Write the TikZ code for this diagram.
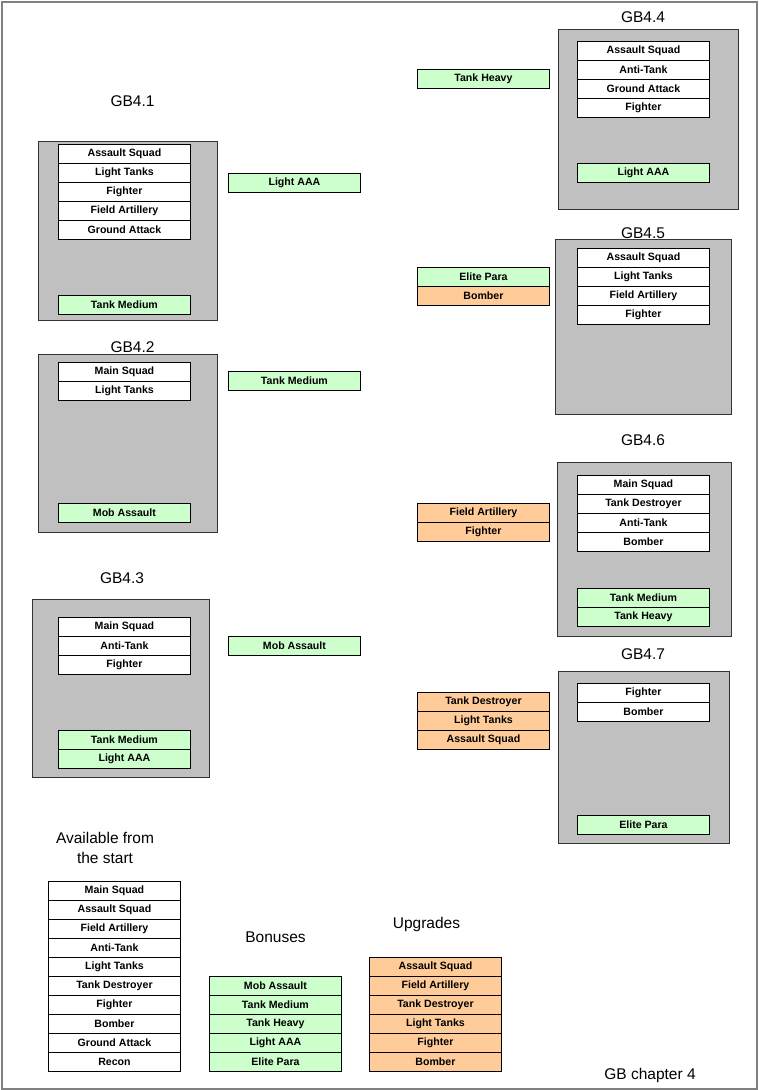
\documentclass[tikz,border=0pt]{standalone}
\usepackage{fontspec}
\setmainfont{Liberation Sans}
\definecolor{grpfill}{HTML}{C0C0C0}
\definecolor{grnfill}{HTML}{CCFFCC}
\definecolor{orgfill}{HTML}{FFCC99}
\definecolor{framecol}{HTML}{808080}
\begin{document}
\begin{tikzpicture}[x=1pt,y=-1pt,
  cell/.style={draw=black,line width=0.9pt,fill=white,minimum width=132pt,minimum height=19pt,
    inner sep=0pt,anchor=north west,font=\fontsize{10.6}{12}\selectfont\bfseries},
  grn/.style={cell,fill=grnfill},
  org/.style={cell,fill=orgfill},
  grp/.style={draw=black!80,line width=1pt,fill=grpfill,inner sep=0pt,anchor=north west},
  ttl/.style={font=\fontsize{15.5}{18.5}\selectfont,inner sep=0pt,align=center},
  small/.style={font=\fontsize{15.5}{18}\selectfont,inner sep=0pt}]
\useasboundingbox (0,0) rectangle (758,1090);
\node[draw=framecol,line width=2pt,minimum width=755pt,minimum height=1087pt,anchor=north west,inner sep=0pt] (frame) at (1,1) {};

% GB4.1
\node[ttl] (t1) at (132.5,101) {GB4.1};
\node[grp,minimum width=179pt,minimum height=179pt] (g1) at (38,141) {};
\node[cell] (g1a) at (58,144) {Assault Squad};
\node[cell] (g1b) at (58,163) {Light Tanks};
\node[cell] (g1c) at (58,182) {Fighter};
\node[cell] (g1d) at (58,201) {Field Artillery};
\node[cell] (g1e) at (58,220) {Ground Attack};
\node[grn] (g1f) at (58,295) {Tank Medium};
\node[grn] (b1) at (228,173) {Light AAA};

% GB4.2
\node[ttl] (t2) at (132.5,347) {GB4.2};
\node[grp,minimum width=179pt,minimum height=178pt] (g2) at (38,354) {};
\node[cell] (g2a) at (58,362) {Main Squad};
\node[cell] (g2b) at (58,381) {Light Tanks};
\node[grn] (g2c) at (58,503) {Mob Assault};
\node[grn] (b2) at (228,371) {Tank Medium};

% GB4.3
\node[ttl] (t3) at (122,578) {GB4.3};
\node[grp,minimum width=177pt,minimum height=178pt] (g3) at (32,599) {};
\node[cell] (g3a) at (58,617) {Main Squad};
\node[cell] (g3b) at (58,636) {Anti-Tank};
\node[cell] (g3c) at (58,655) {Fighter};
\node[grn] (g3d) at (58,730) {Tank Medium};
\node[grn] (g3e) at (58,749) {Light AAA};
\node[grn] (b3) at (228,636) {Mob Assault};

% GB4.4
\node[ttl] (t4) at (643,17) {GB4.4};
\node[grp,minimum width=180pt,minimum height=180pt] (g4) at (558,29) {};
\node[cell] (g4a) at (577,41) {Assault Squad};
\node[cell] (g4b) at (577,60) {Anti-Tank};
\node[cell] (g4c) at (577,79) {Ground Attack};
\node[cell] (g4d) at (577,98) {Fighter};
\node[grn] (g4e) at (577,163) {Light AAA};
\node[grn] (b4) at (417,69) {Tank Heavy};

% GB4.5
\node[ttl] (t5) at (643,233) {GB4.5};
\node[grp,minimum width=176pt,minimum height=175pt] (g5) at (555,239) {};
\node[cell] (g5a) at (577,248) {Assault Squad};
\node[cell] (g5b) at (577,267) {Light Tanks};
\node[cell] (g5c) at (577,286) {Field Artillery};
\node[cell] (g5d) at (577,305) {Fighter};
\node[grn] (b5a) at (417,267) {Elite Para};
\node[org] (b5b) at (417,286) {Bomber};

% GB4.6
\node[ttl] (t6) at (643,440) {GB4.6};
\node[grp,minimum width=174pt,minimum height=174pt] (g6) at (557,462) {};
\node[cell] (g6a) at (577,475) {Main Squad};
\node[cell] (g6b) at (577,494) {Tank Destroyer};
\node[cell] (g6c) at (577,513) {Anti-Tank};
\node[cell] (g6d) at (577,532) {Bomber};
\node[grn] (g6e) at (577,588) {Tank Medium};
\node[grn] (g6f) at (577,607) {Tank Heavy};
\node[org] (b6a) at (417,503) {Field Artillery};
\node[org] (b6b) at (417,522) {Fighter};

% GB4.7
\node[ttl] (t7) at (643,654) {GB4.7};
\node[grp,minimum width=171pt,minimum height=172pt] (g7) at (558,671) {};
\node[cell] (g7a) at (577,683) {Fighter};
\node[cell] (g7b) at (577,702) {Bomber};
\node[grn] (g7c) at (577,815) {Elite Para};
\node[org] (b7a) at (417,692) {Tank Destroyer};
\node[org] (b7b) at (417,711) {Light Tanks};
\node[org] (b7c) at (417,730) {Assault Squad};

% Available from the start
\node[ttl] (tav) at (105,848) {Available from\\[1pt]the start};
\node[cell] (av1) at (48,881) {Main Squad};
\node[cell] (av2) at (48,900) {Assault Squad};
\node[cell] (av3) at (48,919) {Field Artillery};
\node[cell] (av4) at (48,938) {Anti-Tank};
\node[cell] (av5) at (48,957) {Light Tanks};
\node[cell] (av6) at (48,976) {Tank Destroyer};
\node[cell] (av7) at (48,995) {Fighter};
\node[cell] (av8) at (48,1014) {Bomber};
\node[cell] (av9) at (48,1033) {Ground Attack};
\node[cell] (av10) at (48,1052) {Recon};

% Bonuses
\node[ttl] (tbo) at (275.5,937) {Bonuses};
\node[grn] (bo1) at (209,976) {Mob Assault};
\node[grn] (bo2) at (209,995) {Tank Medium};
\node[grn] (bo3) at (209,1014) {Tank Heavy};
\node[grn] (bo4) at (209,1033) {Light AAA};
\node[grn] (bo5) at (209,1052) {Elite Para};

% Upgrades
\node[ttl] (tup) at (426.5,924) {Upgrades};
\node[org] (up1) at (369,957) {Assault Squad};
\node[org] (up2) at (369,976) {Field Artillery};
\node[org] (up3) at (369,995) {Tank Destroyer};
\node[org] (up4) at (369,1014) {Light Tanks};
\node[org] (up5) at (369,1033) {Fighter};
\node[org] (up6) at (369,1052) {Bomber};

\node[small] (foot) at (650,1075) {GB chapter 4};
\end{tikzpicture}
\end{document}
